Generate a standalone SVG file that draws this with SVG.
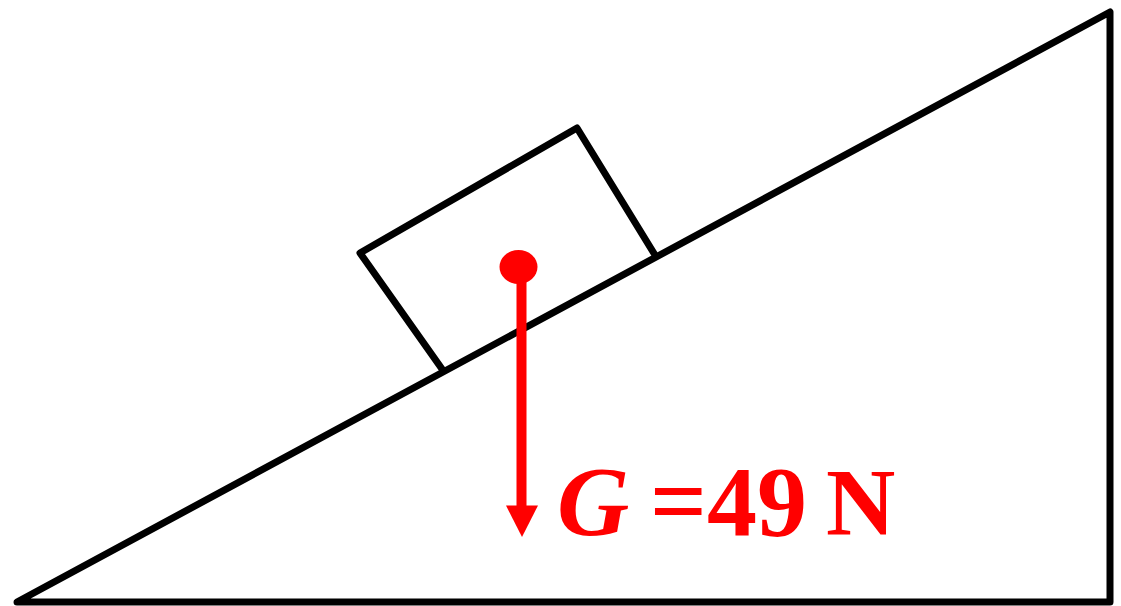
<svg xmlns="http://www.w3.org/2000/svg" width="1121" height="606" viewBox="0 0 1121 606">
<style>
.blk{fill:none;stroke:#000;stroke-width:7;stroke-linejoin:round;stroke-linecap:round}
.red{fill:#ff0000}
.lbl{font-family:"Liberation Serif",serif;font-weight:bold;font-size:100px;fill:#ff0000}
</style>
<rect width="1121" height="606" fill="#fff"/>
<g id="incline">
<polygon class="blk" points="17,602 1110,12 1110,602"/>
</g>
<g id="block">
<polyline class="blk" points="442,369 360,253 577,128 655,255"/>
</g>
<g id="connectors">
<ellipse class="red" cx="518.5" cy="267" rx="19" ry="17"/>
<rect class="red" x="516.5" y="267" width="10" height="242"/>
<polygon class="red" points="506,505.5 538,505.5 522,537"/>
</g>
<g id="label">
<text class="lbl" x="557" y="535" font-style="italic">G</text>
<text class="lbl" x="650" y="535">=49<tspan x="826" font-size="96">N</tspan></text>
</g>
</svg>
